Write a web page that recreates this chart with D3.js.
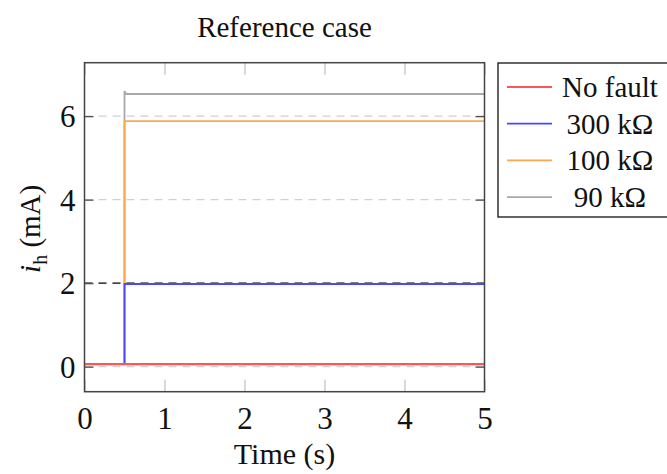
<!DOCTYPE html>
<html>
<head>
<meta charset="utf-8">
<script src="https://cdn.jsdelivr.net/npm/d3@7"></script>
<style>
  body { margin: 0; background: #fff; }
  text { font-family: "Liberation Serif", "DejaVu Serif", serif; fill: #111; }
</style>
</head>
<body>
<svg id="chart" width="667" height="474"></svg>
<script>
// data
const seriesNames = ["No fault", "300 k\u03A9", "100 k\u03A9", "90 k\u03A9"];
const seriesColors = ["#ff5555", "#4848ff", "#ffa64d", "#a9a9a9"];
const noFaultT = [0, 5];
const noFaultI = [0.06, 0.06];
const r300T = [0, 0.5, 0.5, 5];
const r300I = [0.06, 0.06, 1.98, 1.98];
const r100T = [0, 0.5, 0.5, 5];
const r100I = [0.06, 0.06, 5.88, 5.88];
const r90T = [0, 0.5, 0.5, 0.52, 5];
const r90I = [0.06, 0.06, 6.6, 6.53, 6.53];
const xTicks = [0, 1, 2, 3, 4, 5];
const yTicks = [0, 2, 4, 6];
const threshold = 2;

const svg = d3.select("#chart");
const margin = {left: 84.5, right: 182.5, top: 62.7, bottom: 82.3};
const width = 667 - margin.left - margin.right;
const height = 474 - margin.top - margin.bottom;

const x = d3.scaleLinear().domain([0, 5]).range([margin.left, margin.left + width]);
const y = d3.scaleLinear().domain([-0.6, 7.28]).range([margin.top + height, margin.top]);

// grid lines (dashed, light)
svg.append("g")
    .selectAll("line")
    .data(yTicks)
    .enter()
    .append("line")
    .attr("x1", x(0)).attr("x2", x(5))
    .attr("y1", d => y(d)).attr("y2", d => y(d))
    .style("stroke", "#d0d0d0")
    .style("stroke-width", 1.3)
    .style("stroke-dasharray", "8,6");

// threshold line
svg.append("line")
    .attr("x1", x(0)).attr("x2", x(5))
    .attr("y1", y(threshold)).attr("y2", y(threshold))
    .style("stroke", "#111")
    .style("stroke-width", 1.3)
    .style("stroke-dasharray", "8,6");

// ticks, inward on every side
const xAxisB = d3.axisBottom(x).tickValues(xTicks).tickSize(-12).tickFormat(d3.format("d"));
const xAxisT = d3.axisTop(x).tickValues(xTicks).tickSize(-12).tickFormat("");
const yAxisL = d3.axisLeft(y).tickValues(yTicks).tickSize(-9).tickFormat(d3.format("d"));
const yAxisR = d3.axisRight(y).tickValues(yTicks).tickSize(-9).tickFormat("");

function styleAxis(g, tickColor) {
    g.select(".domain").remove();
    g.selectAll(".tick line").style("stroke", tickColor).style("stroke-width", 1.3);
    g.selectAll(".tick text")
        .style("font-family", "'Liberation Serif', serif")
        .style("font-size", "31px")
        .style("fill", "#111");
}

svg.append("g").attr("transform", `translate(0,${y(-0.6)})`).call(xAxisB)
    .call(g => styleAxis(g, "#c4c4c4"))
    .call(g => g.selectAll(".tick text").attr("dy", "0.9em").attr("y", 9));
svg.append("g").attr("transform", `translate(0,${y(7.28)})`).call(xAxisT)
    .call(g => styleAxis(g, "#c4c4c4"));
svg.append("g").attr("transform", `translate(${x(0)},0)`).call(yAxisL)
    .call(g => styleAxis(g, "#505050"))
    .call(g => g.selectAll(".tick text").attr("x", -9).attr("dy", "0.34em"));
svg.append("g").attr("transform", `translate(${x(5)},0)`).call(yAxisR)
    .call(g => styleAxis(g, "#505050"));

// series lines, drawn so the lower currents sit on top
const line = d3.line().x(d => x(d[0])).y(d => y(d[1]));
const series = [
    {name: seriesNames[3], color: seriesColors[3], pts: d3.zip(r90T, r90I), w: 1.8},
    {name: seriesNames[2], color: seriesColors[2], pts: d3.zip(r100T, r100I), w: 1.8},
    {name: seriesNames[1], color: seriesColors[1], pts: d3.zip(r300T, r300I), w: 1.8},
    {name: seriesNames[0], color: seriesColors[0], pts: d3.zip(noFaultT, noFaultI), w: 2.2}
];
svg.append("g")
    .selectAll("path")
    .data(series)
    .enter()
    .append("path")
    .attr("d", d => line(d.pts))
    .style("fill", "none")
    .style("stroke", d => d.color)
    .style("stroke-width", d => d.w);

// frame
svg.append("rect")
    .attr("x", x(0)).attr("y", y(7.28))
    .attr("width", width).attr("height", height)
    .style("fill", "none")
    .style("stroke", "#444")
    .style("stroke-width", 1.5);

// title & labels
svg.append("text")
    .attr("x", x(2.5)).attr("y", 37)
    .attr("text-anchor", "middle")
    .style("font-size", "29px")
    .text("Reference case");

svg.append("text")
    .attr("x", x(2.5)).attr("y", 464)
    .attr("text-anchor", "middle")
    .style("font-size", "30px")
    .text("Time (s)");

const ylab = svg.append("text")
    .attr("transform", `translate(40,${y(3.3)}) rotate(-90)`)
    .attr("text-anchor", "middle")
    .style("font-size", "29px");
ylab.append("tspan").style("font-style", "italic").text("i");
ylab.append("tspan").attr("dy", 7).style("font-size", "20px").text("h");
ylab.append("tspan").attr("dy", -7).text(" (mA)");

// legend
const legend = svg.append("g");
legend.append("rect")
    .attr("x", 498).attr("y", 63)
    .attr("width", 175).attr("height", 154)
    .style("fill", "#fff")
    .style("stroke", "#111")
    .style("stroke-width", 1.3);

const legendRows = legend.selectAll("g")
    .data(seriesNames)
    .enter()
    .append("g")
    .attr("transform", (d, i) => `translate(0,${87 + i * 36.7})`);
legendRows.append("line")
    .attr("x1", 507).attr("x2", 552)
    .attr("y1", 0).attr("y2", 0)
    .style("stroke", (d, i) => seriesColors[i])
    .style("stroke-width", 1.8);
legendRows.append("text")
    .attr("x", 610).attr("y", 10)
    .attr("text-anchor", "middle")
    .style("font-size", "29px")
    .text(d => d);
</script>
</body>
</html>
